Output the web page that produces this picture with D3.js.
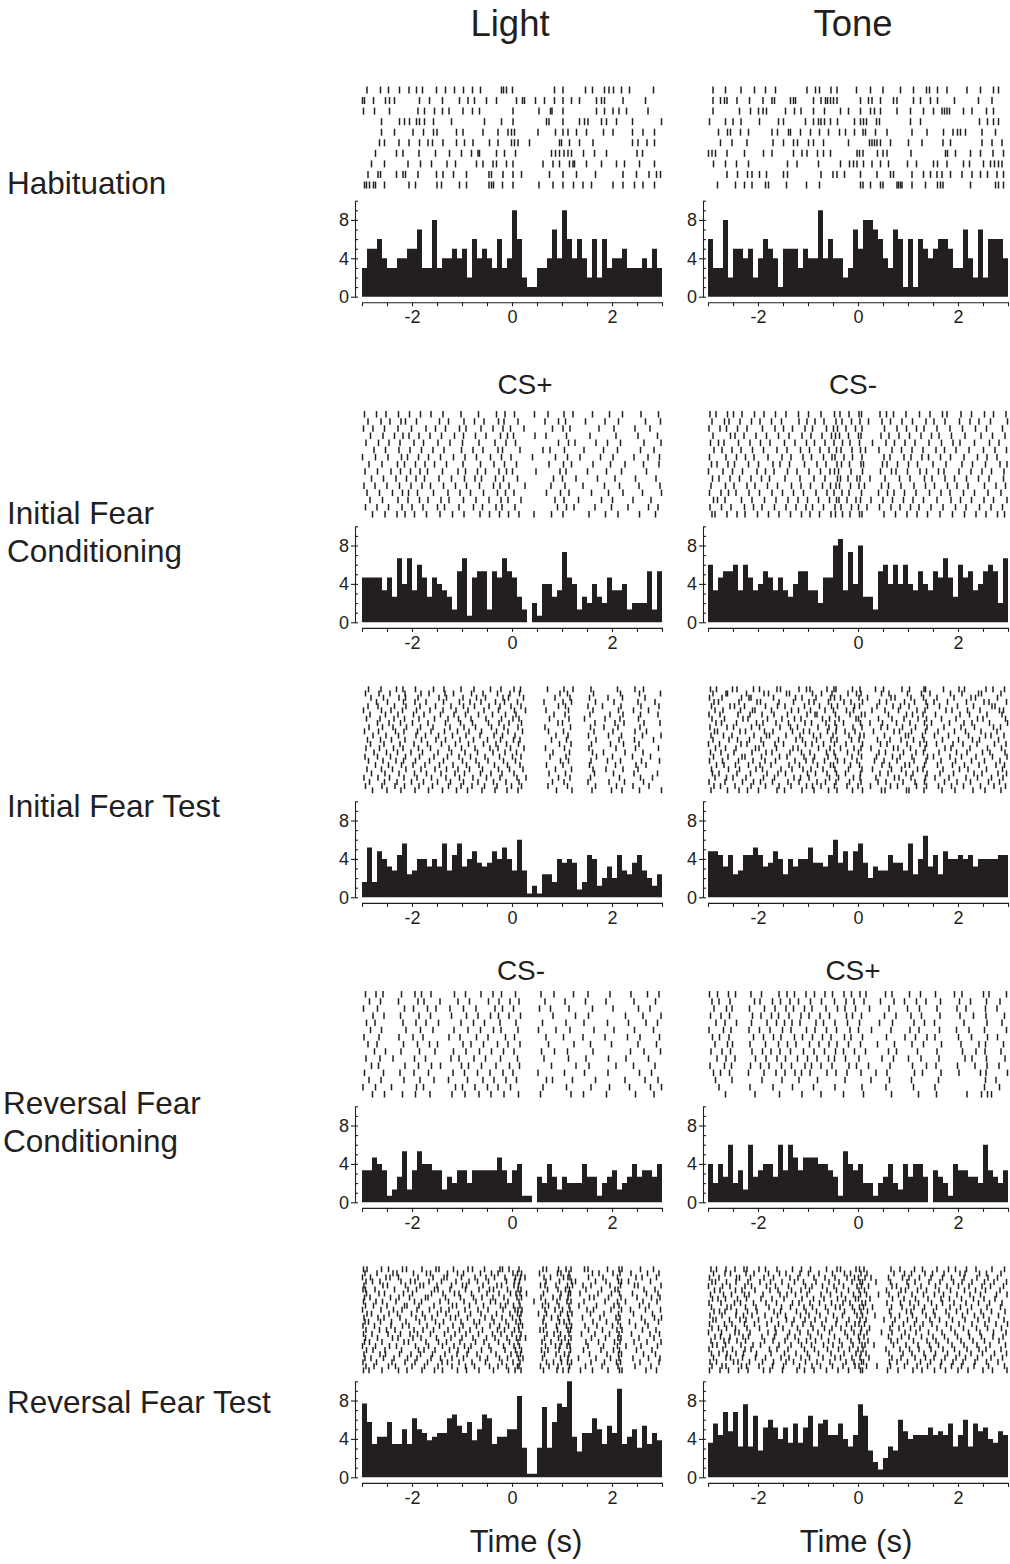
<!DOCTYPE html>
<html>
<head>
<meta charset="utf-8">
<script src="https://cdn.jsdelivr.net/npm/d3@7"></script>
<style>
  body { margin: 0; background: #fff; }
  svg text { font-family: "Liberation Sans", Arial, Helvetica, sans-serif; fill: #231f20; }
</style>
</head>
<body>
<svg id="fig" width="1010" height="1564"></svg>
<script>
// ---- labels ----
const columnTitles = ["Light", "Tone"];
const rowLabels = [["Habituation"], ["Initial Fear", "Conditioning"], ["Initial Fear Test"], ["Reversal Fear", "Conditioning"], ["Reversal Fear Test"]];
const stimulusLabelsInitial = ["CS+", "CS-"];
const stimulusLabelsReversal = ["CS-", "CS+"];
const timeAxisTitle = "Time (s)";

// ---- axes ----
const timeTicks = [-3, -2.5, -2, -1.5, -1, -0.5, 0, 0.5, 1, 1.5, 2, 2.5, 3];
const timeLabels = [-2, 0, 2];
const timeLabelsNoNeg = [0, 2];
const rateTicks = [0, 1, 2, 3, 4, 5, 6, 7, 8, 9, 10];
const rateLabels = [0, 4, 8];
const binStart = -3, binWidth = 0.1;

// ---- peri-event histograms, firing rate (Hz) in 100 ms bins from -3 s to 3 s ----
const histHabLight = [3,5,5,6,4,3,3,4,4,5, 5,7,3,3,8,3,4,4,5,4, 5,2,6,4,5,4,3,6,3,4, 9,6,2,1,1,3,3,4,7,4, 9,6,4,6,4,2,6,2,6,3, 4,4,5,3,3,3,4,3,5,3];
const histHabTone = [6,3,3,8,2,5,5,4,5,2, 4,6,5,4,1,5,5,5,3,5, 4,4,9,4,6,4,4,2,3,7, 5,8,8,7,6,4,3,7,6,1, 6,1,6,5,4,5,6,6,5,3, 3,7,4,2,7,2,6,6,6,4];
const histIFCLight = [4.67,4.67,4.67,4.67,3.33,4.67,2.67,6.67,4,6.67, 3.33,6,4.67,2.67,4.67,4,3.33,2.67,1.33,5.33, 6.67,0.67,4.67,5.33,5.33,1.33,5.33,4.67,6.67,5.33, 4.67,2.67,1.33,0,2,0.67,4,4,2.67,3.33, 7.33,4.67,4,1.33,2.67,2,4,2.67,2,4.67, 3.33,3.33,4,1.33,2,2,2,5.33,1.33,5.33];
const histIFCTone = [6,3.33,4.67,5.33,5.33,6,3.33,6,4.67,3.33, 4,5.33,4.67,3.33,4.67,3.33,2.67,4,5.33,5.33, 3.33,3.33,2,4.67,4.67,8,8.67,3.33,7.33,4, 8,2.67,2.67,1.33,5.33,6,4,6,4,6, 4,3.33,5.33,4,3.33,5.33,4.67,6.67,4.67,2.67, 6,4.67,5.33,3.33,4,5.33,6,5.33,2,6.67];
const histIFTLight = [1.6,5.2,1.6,4.8,4,3.2,2.8,4.4,5.6,2.4, 2.8,4,4,3.2,4,3.2,5.6,2.8,4.4,5.6, 3.2,4,4.8,3.6,3.2,3.6,4.8,4,5.2,4, 2.8,6,2.8,0.4,1.2,0.4,2.4,2.4,1.6,4, 3.6,4,3.6,0.8,1.6,4.4,4,1.2,2,3.2, 2,4.4,2.8,2.4,3.6,4.4,2.8,2,1.2,2.4];
const histIFTTone = [4.8,4.8,4.4,3.2,4.4,2.4,2.8,4.4,4.4,5.2, 4.4,3.2,3.6,4.8,4,2.4,4,3.2,4,4, 5.2,3.6,3.6,3.2,4.4,6,3.6,4.8,2.8,4.8, 5.6,3.6,2,3.2,2.8,2.8,4.4,3.6,3.6,2.8, 5.6,2.4,4,6.4,3.2,4.4,2.4,4.8,4,4, 4.4,4,4.4,3.2,4,4,4,4,4.4,4.4];
const histRFCLight = [3.33,3.33,4.67,4,3.33,0.67,1.33,2.67,5.33,1.33, 3.33,5.33,4,4,3.33,3.33,1.33,2.67,2,3.33, 3.33,2,3.33,3.33,3.33,3.33,3.33,4.67,3.33,2, 3.33,4,0.67,0.67,0,2.67,2,4,2.67,1.33, 2.67,2,2,2,4,2.67,2.67,0.67,2,2.67, 3.33,1.33,2,2.67,4,2.67,3.33,3.33,2.67,4];
const histRFCTone = [4,2,4,2.67,6,2,3.33,1.33,6,2.67, 3.33,4,4,2.67,6,3.33,6,4.67,3.33,4.67, 4.67,4.67,4,4,3.33,2.67,0.67,5.33,4,3.33, 4,2,2,0.67,2,2.67,4,2,1.33,4, 2.67,4,4,2.67,0,3.33,2.67,2,0.67,4, 3.33,3.33,2.67,2.67,2,6,3.33,2.67,2,3.33];
const histRFTLight = [7.69,5.77,3.46,4.23,4.23,5.77,3.46,3.46,5,3.46, 6.15,5,4.62,3.85,4.23,4.62,4.62,6.15,6.54,5.38, 4.62,5.77,3.85,5,6.54,6.15,3.46,4.23,4.23,5, 5,8.46,3.08,0.38,0.38,3.08,7.31,3.08,5.77,7.69, 7.31,10,4.23,2.69,4.62,4.62,6.15,5,3.46,5.38, 4.62,9.23,3.46,4.23,5,3.08,5.38,3.46,4.62,3.85];
const histRFTTone = [3.6,5.6,4.4,6.8,4.8,6.8,3.2,7.6,3.2,6.4, 2.8,5.2,6,5.2,4,5.2,3.6,5.6,3.6,5.2, 6.4,3.2,5.6,6,4.4,4.4,5.6,4,3.2,4.4, 7.6,6.4,2.8,1.6,0.8,2,3.2,2.8,6,4.8, 4,4.4,4.4,4.4,5.2,4.4,4.8,4.4,5.6,3.2, 4.4,6,3.2,5.6,4.8,5.2,4,3.6,4.8,4.4];

// ---- spike rasters: one array of spike times (s) per trial ----
const rasterHabLight = [
  [-2.90,-2.63,-2.47,-2.25,-2.06,-1.91,-1.79,-1.51,-1.33,-1.15,-0.97,-0.79,-0.63,-0.21,-0.17,-0.11,0.01,0.85,1.02,1.47,1.61,1.85,1.94,2.03,2.19,2.35,2.83],
  [-2.99,-2.95,-2.77,-2.53,-2.45,-2.35,-1.85,-1.65,-1.39,-1.05,-0.88,-0.75,-0.51,-0.31,0.09,0.21,0.25,0.47,0.65,0.85,1.02,1.19,1.35,1.69,1.79,1.85,2.22,2.67],
  [-2.97,-2.75,-2.45,-1.88,-1.75,-1.55,-1.39,-1.26,-0.98,-0.79,-0.65,0.02,0.54,0.77,0.80,1.02,1.69,1.85,2.02,2.14,2.29,2.72],
  [-2.61,-2.25,-2.15,-2.05,-1.91,-1.85,-1.75,-1.57,-1.21,-0.55,-0.21,0.02,0.69,0.74,1.02,1.35,1.45,1.52,1.79,1.89,2.09,2.41,2.99],
  [-2.61,-2.35,-1.98,-1.77,-1.57,-1.50,-1.11,-0.98,-0.58,-0.28,-0.08,-0.01,0.05,0.52,0.87,1.02,1.12,1.29,1.49,1.83,2.02,2.41,2.62,2.85],
  [-2.65,-2.55,-2.26,-2.06,-1.85,-1.68,-1.59,-1.38,-1.11,-0.95,-0.78,-0.45,-0.28,-0.01,0.05,0.12,0.35,0.95,0.99,1.15,1.35,1.62,2.41,2.52,2.70,2.85],
  [-2.73,-2.31,-2.18,-1.86,-1.53,-1.25,-1.01,-0.81,-0.68,-0.65,-0.31,-0.15,0.07,0.79,0.87,0.95,1.04,1.12,1.19,1.43,1.65,1.89,2.50,2.61],
  [-2.81,-2.55,-2.08,-1.83,-1.61,-1.30,-1.13,-0.71,-0.58,-0.38,-0.31,-0.11,0.02,0.62,0.82,0.95,1.15,1.22,1.25,1.49,1.79,2.09,2.25,2.55,2.85],
  [-2.88,-2.68,-2.63,-2.31,-2.18,-2.13,-1.88,-1.51,-1.38,-1.17,-0.91,-0.46,-0.41,-0.18,0.02,0.19,0.75,1.02,1.29,1.67,2.22,2.49,2.74,2.89,2.97],
  [-2.95,-2.91,-2.85,-2.77,-2.73,-2.55,-2.06,-1.93,-1.50,-1.41,-1.05,-0.91,-0.46,-0.41,-0.37,-0.19,0.02,0.54,0.82,1.02,1.23,1.42,1.59,2.02,2.22,2.45,2.62,2.85]
];
const rasterHabTone = [
  [-2.90,-2.65,-2.34,-2.07,-1.85,-1.65,-1.02,-0.85,-0.77,-0.54,-0.42,-0.03,0.25,0.50,0.85,1.11,1.37,1.43,1.59,1.78,2.18,2.45,2.71,2.81],
  [-2.90,-2.75,-2.67,-2.62,-2.42,-2.17,-1.90,-1.72,-1.67,-1.35,-1.29,-1.25,-0.89,-0.74,-0.65,-0.61,-0.55,-0.49,-0.42,0.05,0.21,0.28,0.45,0.71,0.78,1.11,1.25,1.45,1.59,1.93,2.41,2.68],
  [-2.90,-2.37,-2.15,-1.99,-1.90,-1.83,-1.45,-1.27,-1.14,-0.89,-0.67,-0.35,-0.19,0.05,0.25,0.33,0.45,0.78,1.05,1.31,1.51,1.68,1.73,1.78,1.83,2.11,2.28,2.57,2.71],
  [-2.97,-2.65,-2.50,-2.34,-1.97,-1.59,-1.49,-1.05,-0.89,-0.79,-0.74,-0.67,-0.55,-0.41,-0.07,0.05,0.11,0.17,0.37,0.43,1.05,1.25,2.43,2.59,2.71,2.81],
  [-2.79,-2.61,-2.55,-2.35,-2.19,-1.72,-1.61,-1.39,-1.35,-1.15,-0.95,-0.77,-0.59,-0.37,-0.25,-0.07,0.10,0.15,0.35,0.58,1.08,1.38,1.71,1.90,1.99,2.05,2.15,2.48,2.75],
  [-2.75,-2.52,-2.22,-1.70,-1.49,-1.29,-1.21,-0.99,-0.89,-0.69,-0.19,0.23,0.28,0.33,0.38,0.45,0.65,1.01,1.28,1.70,1.85,2.48,2.68,2.88],
  [-2.99,-2.92,-2.85,-2.62,-2.27,-1.89,-1.72,-1.29,-1.12,-1.02,-0.81,-0.69,-0.55,-0.02,0.03,0.10,0.39,0.50,0.58,1.06,1.75,1.79,1.95,2.25,2.45,2.70,2.91],
  [-2.89,-2.65,-2.43,-2.19,-1.41,-1.22,-0.79,-0.35,-0.17,-0.09,-0.02,0.11,0.28,0.45,0.61,0.99,1.17,1.51,1.59,1.78,2.11,2.23,2.51,2.65,2.73,2.81,2.88],
  [-2.62,-2.41,-2.21,-2.12,-1.97,-1.83,-1.49,-1.41,-0.74,-0.50,-0.42,-0.27,0.05,0.38,0.65,0.71,1.08,1.31,1.45,1.58,1.68,1.85,2.08,2.28,2.45,2.59,2.78,2.91],
  [-2.81,-2.45,-2.27,-2.12,-1.85,-1.79,-1.43,-1.03,-0.77,0.05,0.10,0.25,0.45,0.50,0.78,0.81,0.85,0.88,1.08,1.35,1.59,1.65,1.70,2.25,2.75,2.81,2.91]
];
const rasterIFCLight = [
  [-2.95,-2.71,-2.52,-2.27,-2.05,-1.83,-1.62,-1.38,-1.02,-0.67,-0.31,-0.14,0.05,0.45,0.72,1.04,1.22,1.61,1.95,2.21,2.58,2.93],
  [-2.88,-2.62,-2.44,-2.22,-2.13,-1.91,-1.45,-1.27,-0.96,-0.75,-0.56,-0.27,-0.16,0.12,0.66,0.93,1.07,1.47,1.86,2.13,2.67,2.97],
  [-2.97,-2.78,-2.55,-2.28,-2.01,-1.72,-1.53,-1.33,-1.05,-0.92,-0.62,-0.38,-0.18,-0.03,0.24,0.81,1.02,1.16,1.74,2.04,2.46,2.76],
  [-2.83,-2.58,-2.35,-2.18,-2.06,-1.86,-1.64,-1.41,-1.15,-0.97,-0.73,-0.52,-0.23,-0.09,0.03,0.46,0.68,1.09,1.56,2.08,2.52,2.91],
  [-2.92,-2.67,-2.46,-2.24,-1.96,-1.77,-1.48,-1.24,-0.99,-0.66,-0.34,-0.12,0.07,0.93,1.13,1.26,1.68,1.91,2.17,2.64,2.98],
  [-2.76,-2.53,-2.26,-2.04,-1.81,-1.58,-1.36,-1.01,-0.78,-0.58,-0.28,-0.19,0.16,0.62,0.76,1.05,1.44,1.83,2.11,2.57,2.84],
  [-2.99,-2.73,-2.48,-2.21,-2.09,-1.87,-1.67,-1.43,-1.17,-0.94,-0.71,-0.43,-0.21,-0.02,0.41,0.87,1.11,1.36,1.77,2.02,2.44,2.72,2.95],
  [-2.86,-2.60,-2.29,-2.15,-1.93,-1.74,-1.55,-1.31,-0.98,-0.63,-0.36,-0.15,0.09,0.74,1.03,1.19,1.62,1.97,2.26,2.63,2.94],
  [-2.94,-2.69,-2.42,-2.23,-2.03,-1.84,-1.69,-1.39,-1.08,-0.93,-0.69,-0.53,-0.26,-0.11,0.01,0.48,0.96,1.08,1.51,1.89,2.19,2.69],
  [-2.81,-2.57,-2.32,-2.11,-1.92,-1.75,-1.46,-1.21,-0.95,-0.74,-0.61,-0.33,-0.17,0.11,0.83,1.01,1.28,1.71,2.06,2.47,2.88],
  [-2.96,-2.74,-2.50,-2.25,-2.02,-1.80,-1.63,-1.37,-1.13,-0.91,-0.65,-0.37,-0.24,-0.06,0.26,0.78,1.06,1.42,1.85,2.15,2.54,2.96],
  [-2.90,-2.65,-2.39,-2.19,-2.07,-1.89,-1.57,-1.28,-1.04,-0.83,-0.57,-0.29,-0.13,0.04,0.69,0.97,1.14,1.59,1.93,2.22,2.61,2.99],
  [-2.84,-2.59,-2.28,-2.08,-1.85,-1.68,-1.42,-1.26,-0.97,-0.72,-0.46,-0.22,-0.08,0.18,0.86,1.04,1.33,1.79,2.01,2.42,2.78],
  [-2.93,-2.70,-2.47,-2.20,-2.00,-1.78,-1.49,-1.35,-1.06,-0.77,-0.59,-0.32,-0.20,0.06,0.91,1.09,1.24,1.66,1.99,2.32,2.73,2.92],
  [-2.79,-2.54,-2.30,-2.14,-1.95,-1.71,-1.44,-1.19,-0.96,-0.64,-0.45,-0.25,-0.07,0.14,0.44,0.79,1.02,1.54,1.87,2.12,2.55,2.87]
];
const rasterIFCTone = [
  [-2.96,-2.84,-2.61,-2.49,-2.32,-2.07,-1.88,-1.65,-1.44,-1.19,-0.99,-0.74,-0.47,-0.36,-0.18,0.02,0.07,0.44,0.57,0.71,0.96,1.23,1.44,1.69,1.78,2.06,2.27,2.53,2.71,2.96],
  [-2.92,-2.67,-2.58,-2.36,-2.13,-1.96,-1.73,-1.53,-1.18,-1.02,-0.86,-0.68,-0.44,-0.32,-0.13,0.04,0.21,0.48,0.65,0.88,1.09,1.36,1.52,1.74,2.03,2.24,2.42,2.65,2.99],
  [-2.98,-2.76,-2.63,-2.41,-2.22,-1.91,-1.66,-1.49,-1.31,-1.06,-0.91,-0.63,-0.49,-0.41,-0.24,-0.05,0.08,0.53,0.78,0.97,1.17,1.32,1.58,1.84,2.09,2.35,2.57,2.89],
  [-2.90,-2.55,-2.46,-2.28,-2.04,-1.83,-1.59,-1.38,-1.12,-0.94,-0.72,-0.53,-0.45,-0.37,-0.19,0.01,0.06,0.46,0.62,0.82,1.03,1.26,1.47,1.62,1.87,2.14,2.46,2.69,2.94],
  [-2.95,-2.79,-2.68,-2.39,-2.16,-1.95,-1.76,-1.47,-1.26,-1.03,-0.87,-0.66,-0.48,-0.31,-0.16,0.03,0.29,0.56,0.73,0.94,1.14,1.42,1.67,1.90,2.04,2.33,2.63,2.82],
  [-2.88,-2.72,-2.52,-2.34,-2.11,-1.89,-1.62,-1.42,-1.15,-0.97,-0.76,-0.58,-0.43,-0.34,-0.12,0.05,0.15,0.42,0.68,0.87,1.08,1.30,1.56,1.73,1.96,2.22,2.51,2.74,2.97],
  [-2.97,-2.64,-2.43,-2.25,-2.08,-1.80,-1.52,-1.34,-1.10,-0.93,-0.69,-0.52,-0.46,-0.28,-0.11,0.08,0.52,0.64,0.92,1.06,1.28,1.41,1.65,1.85,2.12,2.39,2.58,2.78],
  [-2.93,-2.82,-2.60,-2.47,-2.19,-1.99,-1.70,-1.56,-1.37,-1.07,-0.82,-0.64,-0.42,-0.33,-0.17,0.06,0.11,0.49,0.58,0.79,1.01,1.19,1.50,1.76,2.08,2.29,2.55,2.84,2.98],
  [-2.99,-2.70,-2.51,-2.31,-2.02,-1.85,-1.68,-1.41,-1.22,-0.98,-0.75,-0.56,-0.47,-0.39,-0.14,0.09,0.45,0.67,0.76,0.99,1.24,1.37,1.61,1.72,2.02,2.26,2.48,2.67,2.92],
  [-2.91,-2.78,-2.56,-2.37,-2.14,-1.93,-1.77,-1.46,-1.16,-0.88,-0.66,-0.41,-0.35,-0.20,-0.02,0.04,0.24,0.54,0.83,1.04,1.33,1.48,1.74,1.93,2.17,2.41,2.62,2.91],
  [-2.94,-2.65,-2.48,-2.22,-2.06,-1.81,-1.61,-1.33,-1.14,-0.95,-0.71,-0.55,-0.44,-0.37,-0.15,0.02,0.13,0.47,0.61,0.86,1.12,1.35,1.53,1.79,1.98,2.20,2.53,2.76,2.95],
  [-2.97,-2.74,-2.59,-2.44,-2.18,-1.97,-1.72,-1.51,-1.29,-1.09,-0.84,-0.62,-0.48,-0.32,-0.18,0.07,0.41,0.59,0.72,0.93,1.16,1.43,1.66,1.84,2.11,2.33,2.60,2.86],
  [-2.89,-2.81,-2.66,-2.33,-2.12,-1.87,-1.64,-1.40,-1.20,-1.01,-0.79,-0.57,-0.43,-0.38,-0.22,-0.04,0.05,0.26,0.50,0.69,0.91,1.10,1.31,1.58,1.86,2.05,2.27,2.52,2.71,2.98],
  [-2.96,-2.73,-2.54,-2.27,-2.09,-1.92,-1.67,-1.44,-1.24,-1.04,-0.91,-0.69,-0.46,-0.34,-0.13,0.01,0.18,0.43,0.66,0.84,1.05,1.22,1.46,1.70,1.95,2.16,2.43,2.66,2.89],
  [-2.92,-2.86,-2.62,-2.42,-2.26,-2.01,-1.79,-1.58,-1.35,-1.13,-0.96,-0.77,-0.54,-0.45,-0.31,-0.16,0.03,0.08,0.52,0.75,0.98,1.18,1.39,1.64,1.89,2.13,2.36,2.56,2.79,2.93]
];
const rasterIFTLight = [
  [-2.87,-2.62,-2.31,-2.18,-1.93,-1.57,-1.36,-1.02,-0.76,-0.43,-0.22,0.04,0.17,0.71,1.04,1.22,1.58,2.11,2.46,2.63],
  [-2.93,-2.66,-2.44,-2.14,-1.82,-1.66,-1.34,-1.17,-0.81,-0.58,-0.29,-0.04,0.15,0.96,1.11,1.63,2.17,2.55,2.97],
  [-2.82,-2.57,-2.26,-2.13,-1.88,-1.46,-1.31,-0.98,-0.71,-0.53,-0.18,-0.07,0.23,0.86,1.16,1.55,1.92,2.21,2.66],
  [-2.71,-2.49,-2.17,-1.94,-1.72,-1.37,-1.05,-0.84,-0.62,-0.33,-0.15,0.11,0.64,1.02,1.19,1.67,2.04,2.52,2.86],
  [-2.88,-2.68,-2.35,-2.12,-1.84,-1.53,-1.22,-0.97,-0.75,-0.46,-0.24,-0.02,0.18,0.93,1.07,1.52,1.81,2.18,2.58,2.94],
  [-2.97,-2.61,-2.42,-2.19,-1.91,-1.64,-1.38,-1.12,-0.88,-0.56,-0.27,0.05,0.27,0.68,1.13,1.62,2.13,2.43,2.73],
  [-2.84,-2.53,-2.28,-1.97,-1.76,-1.43,-1.16,-0.93,-0.67,-0.39,-0.13,0.08,0.84,1.06,1.56,1.96,2.22,2.57,2.92],
  [-2.91,-2.64,-2.36,-2.15,-1.86,-1.55,-1.28,-1.07,-0.82,-0.52,-0.21,0.02,0.14,0.75,1.14,1.45,1.86,2.16,2.53],
  [-2.69,-2.46,-2.23,-1.99,-1.68,-1.33,-1.03,-0.79,-0.47,-0.26,-0.06,0.19,0.92,1.01,1.66,2.06,2.24,2.64,2.96],
  [-2.86,-2.59,-2.38,-2.11,-1.83,-1.58,-1.24,-0.96,-0.73,-0.41,-0.16,0.12,0.66,1.17,1.57,1.84,2.12,2.56],
  [-2.95,-2.67,-2.33,-2.16,-1.89,-1.62,-1.35,-1.09,-0.86,-0.61,-0.31,-0.08,0.21,0.73,1.03,1.64,2.02,2.46,2.69],
  [-2.78,-2.52,-2.27,-1.92,-1.73,-1.47,-1.19,-0.92,-0.64,-0.36,-0.19,0.06,0.88,1.12,1.53,1.93,2.19,2.61,2.98],
  [-2.89,-2.63,-2.41,-2.14,-1.81,-1.52,-1.33,-1.04,-0.77,-0.49,-0.23,0.03,0.16,0.79,1.09,1.68,2.14,2.45,2.83],
  [-2.83,-2.56,-2.24,-1.96,-1.69,-1.41,-1.13,-0.87,-0.57,-0.32,-0.11,0.13,0.95,1.18,1.59,1.97,2.23,2.54],
  [-2.92,-2.65,-2.37,-2.18,-1.87,-1.63,-1.26,-1.01,-0.74,-0.44,-0.28,-0.03,0.24,0.67,1.05,1.54,2.08,2.47,2.93],
  [-2.76,-2.51,-2.29,-2.02,-1.79,-1.48,-1.21,-0.94,-0.69,-0.38,-0.14,0.09,0.82,1.15,1.61,1.83,2.26,2.62],
  [-2.94,-2.69,-2.43,-2.13,-1.85,-1.56,-1.29,-1.06,-0.83,-0.54,-0.25,0.01,0.18,0.76,1.08,1.69,2.01,2.41,2.77],
  [-2.87,-2.58,-2.32,-2.17,-1.93,-1.65,-1.37,-0.99,-0.72,-0.48,-0.17,0.07,0.97,1.13,1.58,1.91,2.17,2.59,2.95],
  [-2.73,-2.47,-2.21,-1.98,-1.74,-1.45,-1.18,-0.91,-0.66,-0.35,-0.09,0.16,0.69,1.02,1.55,2.07,2.48,2.68],
  [-2.90,-2.61,-2.39,-2.12,-1.82,-1.54,-1.31,-1.08,-0.85,-0.59,-0.27,-0.05,0.22,0.87,1.19,1.62,1.88,2.22,2.52],
  [-2.81,-2.54,-2.26,-1.95,-1.71,-1.42,-1.14,-0.95,-0.63,-0.42,-0.20,0.04,0.74,1.07,1.65,2.03,2.44,2.91],
  [-2.96,-2.68,-2.45,-2.16,-1.90,-1.61,-1.32,-1.05,-0.78,-0.51,-0.24,0.10,0.28,0.93,1.16,1.57,2.15,2.57,2.81],
  [-2.85,-2.55,-2.30,-2.01,-1.77,-1.49,-1.23,-0.97,-0.68,-0.37,-0.12,0.14,0.81,1.04,1.52,1.94,2.25,2.63],
  [-2.93,-2.60,-2.34,-2.15,-1.86,-1.59,-1.27,-1.02,-0.80,-0.55,-0.30,-0.01,0.19,0.72,1.11,1.67,2.09,2.42,2.74],
  [-2.79,-2.50,-2.22,-1.94,-1.67,-1.39,-1.11,-0.89,-0.60,-0.34,-0.10,0.12,0.89,1.20,1.60,1.99,2.20,2.55,2.99]
];
const rasterIFTTone = [
  [-2.95,-2.83,-2.51,-2.42,-2.09,-1.97,-1.62,-1.55,-1.18,-1.03,-0.96,-0.62,-0.48,-0.44,-0.11,0.04,0.35,0.51,0.88,1.03,1.32,1.35,1.71,2.02,2.13,2.56,2.70,2.93],
  [-2.90,-2.64,-2.61,-2.23,-1.88,-1.79,-1.43,-1.37,-0.91,-0.73,-0.52,-0.20,-0.03,0.06,0.47,0.62,0.99,1.27,1.44,1.85,2.08,2.41,2.47,2.86],
  [-2.97,-2.72,-2.33,-2.18,-2.14,-1.69,-1.25,-1.12,-0.84,-0.55,-0.47,-0.35,0.02,0.19,0.66,0.74,1.06,1.31,1.58,1.92,2.26,2.35,2.79],
  [-2.88,-2.79,-2.38,-2.02,-1.95,-1.58,-1.29,-0.98,-0.88,-0.59,-0.28,-0.14,0.09,0.43,0.57,0.93,1.13,1.36,1.52,1.79,2.17,2.52,2.62,2.97],
  [-2.93,-2.56,-2.47,-2.27,-1.85,-1.61,-1.46,-1.07,-0.77,-0.53,-0.41,-0.07,0.03,0.38,0.70,0.85,1.02,1.39,1.63,1.99,2.31,2.68,2.74],
  [-2.86,-2.70,-2.35,-2.11,-2.06,-1.73,-1.33,-1.19,-0.95,-0.66,-0.49,-0.23,-0.09,0.28,0.54,0.81,1.18,1.34,1.76,1.88,2.19,2.44,2.83,2.91],
  [-2.98,-2.76,-2.40,-2.16,-1.92,-1.68,-1.41,-1.02,-0.86,-0.82,-0.45,-0.16,0.07,0.14,0.61,0.97,1.09,1.30,1.55,2.04,2.23,2.58,2.88],
  [-2.92,-2.67,-2.30,-2.20,-1.81,-1.52,-1.27,-1.14,-0.71,-0.57,-0.38,-0.04,0.01,0.41,0.68,0.92,1.20,1.37,1.67,1.96,2.39,2.50,2.95],
  [-2.84,-2.73,-2.43,-2.03,-1.90,-1.64,-1.39,-1.06,-0.93,-0.64,-0.46,-0.29,0.05,0.24,0.49,0.77,1.04,1.33,1.47,1.83,2.12,2.28,2.63,2.99],
  [-2.96,-2.62,-2.49,-2.13,-1.97,-1.56,-1.35,-1.21,-0.80,-0.58,-0.43,-0.10,0.08,0.46,0.59,0.89,1.15,1.38,1.72,2.06,2.33,2.71,2.85],
  [-2.87,-2.81,-2.36,-2.25,-1.87,-1.70,-1.31,-1.09,-0.97,-0.61,-0.44,-0.26,-0.06,0.31,0.72,0.83,1.07,1.35,1.60,1.93,2.15,2.46,2.78],
  [-2.94,-2.69,-2.52,-2.08,-1.83,-1.77,-1.44,-1.16,-0.89,-0.75,-0.50,-0.18,0.04,0.12,0.53,0.95,1.01,1.29,1.53,1.81,2.21,2.55,2.66,2.92],
  [-2.90,-2.58,-2.41,-2.17,-1.94,-1.59,-1.24,-1.11,-0.83,-0.54,-0.42,-0.13,0.02,0.39,0.64,0.86,1.11,1.32,1.69,2.01,2.29,2.43,2.81],
  [-2.99,-2.77,-2.34,-2.22,-1.89,-1.66,-1.49,-1.05,-0.92,-0.69,-0.47,-0.24,0.09,0.45,0.58,0.98,1.24,1.37,1.57,1.90,2.10,2.38,2.73,2.96],
  [-2.85,-2.65,-2.44,-2.05,-1.98,-1.63,-1.30,-1.20,-0.79,-0.56,-0.35,-0.08,0.06,0.26,0.71,0.80,1.05,1.34,1.74,1.86,2.24,2.59,2.87],
  [-2.95,-2.74,-2.48,-2.12,-1.84,-1.72,-1.36,-1.13,-0.96,-0.63,-0.48,-0.21,0.01,0.42,0.55,0.91,1.16,1.31,1.62,1.97,2.18,2.49,2.64,2.94],
  [-2.89,-2.60,-2.32,-2.26,-1.93,-1.57,-1.42,-1.08,-0.87,-0.60,-0.45,-0.12,0.07,0.37,0.69,0.84,1.08,1.39,1.51,1.84,2.07,2.36,2.69,2.98],
  [-2.97,-2.71,-2.39,-2.10,-1.86,-1.65,-1.26,-1.04,-0.90,-0.67,-0.41,-0.27,-0.02,0.33,0.52,0.78,1.12,1.36,1.66,1.95,2.27,2.53,2.84],
  [-2.83,-2.68,-2.45,-2.19,-1.96,-1.74,-1.38,-1.17,-0.81,-0.55,-0.49,-0.15,0.03,0.48,0.63,0.94,1.03,1.33,1.59,1.89,2.13,2.42,2.76,2.93],
  [-2.93,-2.59,-2.37,-2.04,-1.91,-1.54,-1.32,-1.10,-0.94,-0.70,-0.46,-0.19,0.08,0.29,0.67,0.87,1.19,1.30,1.70,2.03,2.20,2.57,2.89],
  [-2.91,-2.78,-2.42,-2.15,-1.82,-1.60,-1.45,-1.01,-0.85,-0.62,-0.43,-0.25,0.05,0.44,0.60,0.96,1.10,1.38,1.64,1.91,2.32,2.48,2.80,2.97],
  [-2.86,-2.63,-2.50,-2.24,-1.89,-1.67,-1.28,-1.15,-0.98,-0.57,-0.39,-0.09,0.04,0.36,0.73,0.82,1.06,1.35,1.54,1.82,2.16,2.39,2.67,2.90],
  [-2.98,-2.66,-2.31,-2.09,-1.95,-1.71,-1.40,-1.18,-0.82,-0.65,-0.44,-0.17,0.06,0.40,0.56,0.90,1.14,1.33,1.73,1.98,2.25,2.61,2.83],
  [-2.88,-2.75,-2.46,-2.14,-1.85,-1.58,-1.34,-1.03,-0.91,-0.74,-0.47,-0.22,0.00,0.25,0.65,0.79,1.17,1.37,1.61,1.87,2.11,2.45,2.72,2.95],
  [-2.94,-2.61,-2.38,-2.21,-1.99,-1.62,-1.47,-1.12,-0.88,-0.59,-0.42,-0.11,0.09,0.47,0.54,0.97,1.02,1.32,1.68,1.94,2.30,2.54,2.86]
];
const rasterRFCLight = [
  [-2.93,-2.72,-2.58,-2.21,-1.94,-1.81,-1.62,-1.15,-0.93,-0.62,-0.38,-0.21,0.07,0.58,0.84,1.23,1.52,1.96,2.38,2.71,2.94],
  [-2.85,-2.63,-2.27,-1.88,-1.76,-1.44,-1.08,-0.85,-0.47,-0.26,-0.04,0.14,0.66,1.06,1.47,1.88,2.44,2.87],
  [-2.97,-2.69,-2.15,-1.97,-1.69,-1.52,-1.24,-0.97,-0.72,-0.34,-0.19,0.03,0.55,0.77,1.14,1.61,2.02,2.53,2.76],
  [-2.78,-2.56,-2.23,-1.86,-1.63,-1.21,-0.91,-0.68,-0.43,-0.27,-0.06,0.17,0.82,1.27,1.53,2.27,2.62,2.98],
  [-2.91,-2.74,-2.18,-1.92,-1.72,-1.47,-1.02,-0.77,-0.55,-0.24,0.08,0.61,1.08,1.44,1.91,2.33,2.68,2.91],
  [-2.83,-2.61,-2.12,-1.83,-1.58,-1.16,-0.88,-0.63,-0.37,-0.22,0.12,0.53,0.88,1.16,1.64,2.04,2.45,2.83],
  [-2.96,-2.66,-2.26,-1.98,-1.78,-1.26,-1.04,-0.71,-0.48,-0.13,0.05,0.68,1.03,1.42,1.86,2.31,2.56,2.95],
  [-2.88,-2.70,-2.17,-1.89,-1.65,-1.49,-0.98,-0.82,-0.57,-0.29,-0.08,0.16,0.73,1.24,1.57,1.99,2.52,2.89],
  [-2.75,-2.53,-2.22,-1.85,-1.54,-1.17,-0.92,-0.65,-0.41,-0.17,0.04,0.59,0.85,1.11,1.62,2.37,2.64,2.97],
  [-2.92,-2.64,-2.38,-1.95,-1.73,-1.22,-1.06,-0.76,-0.53,-0.23,0.11,0.64,1.13,1.48,1.93,2.28,2.73],
  [-2.81,-2.67,-2.14,-1.87,-1.61,-1.43,-1.01,-0.87,-0.61,-0.32,-0.05,0.15,0.79,1.28,1.54,2.08,2.43,2.86],
  [-2.95,-2.57,-2.24,-1.96,-1.67,-1.18,-0.95,-0.69,-0.44,-0.18,0.02,0.52,1.05,1.45,1.92,2.55,2.79],
  [-2.86,-2.62,-2.16,-1.84,-1.56,-1.27,-0.89,-0.58,-0.36,-0.12,0.09,0.69,0.81,1.21,1.67,2.26,2.66,2.92],
  [-2.98,-2.73,-2.41,-1.91,-1.77,-1.13,-0.99,-0.74,-0.49,-0.28,-0.03,0.62,1.09,1.58,1.95,2.35,2.77,2.99],
  [-2.79,-2.55,-2.19,-1.93,-1.64,-1.20,-0.94,-0.66,-0.42,-0.16,0.13,0.57,1.18,1.43,1.89,2.47,2.84]
];
const rasterRFCTone = [
  [-2.97,-2.81,-2.59,-2.45,-2.14,-1.93,-1.58,-1.42,-1.27,-1.04,-0.87,-0.66,-0.51,-0.28,-0.13,0.04,0.16,0.55,0.68,1.03,1.25,1.55,1.93,2.08,2.51,2.62,2.97],
  [-2.92,-2.78,-2.56,-2.07,-1.96,-1.71,-1.55,-1.36,-1.19,-0.95,-0.73,-0.47,-0.24,-0.08,0.12,0.45,0.72,0.93,1.17,1.36,1.65,2.03,2.25,2.57,2.84],
  [-2.88,-2.63,-2.52,-2.17,-1.87,-1.66,-1.44,-1.29,-1.07,-0.92,-0.64,-0.41,-0.26,-0.05,0.23,0.62,0.99,1.23,1.58,1.98,2.16,2.55,2.78],
  [-2.95,-2.74,-2.57,-2.11,-1.94,-1.73,-1.59,-1.38,-1.14,-0.98,-0.76,-0.57,-0.23,-0.11,0.07,0.53,0.76,1.06,1.27,1.64,2.04,2.31,2.56,2.93],
  [-2.84,-2.66,-2.43,-2.13,-1.82,-1.63,-1.47,-1.32,-1.16,-0.84,-0.69,-0.46,-0.21,0.03,0.43,0.69,1.12,1.33,1.53,2.12,2.58,2.88],
  [-2.98,-2.69,-2.54,-2.18,-1.97,-1.76,-1.51,-1.34,-1.03,-0.86,-0.63,-0.43,-0.16,0.01,0.27,0.66,1.04,1.22,1.63,1.97,2.22,2.53,2.97],
  [-2.91,-2.77,-2.58,-2.09,-1.89,-1.69,-1.54,-1.27,-1.11,-0.91,-0.71,-0.54,-0.27,-0.14,0.09,0.57,0.94,1.15,1.38,1.54,2.01,2.27,2.59,2.79],
  [-2.86,-2.61,-2.51,-2.16,-1.85,-1.59,-1.41,-1.24,-0.97,-0.78,-0.58,-0.42,-0.19,0.05,0.39,0.73,1.08,1.31,1.67,2.06,2.42,2.55,2.91],
  [-2.94,-2.72,-2.55,-2.12,-1.91,-1.74,-1.56,-1.35,-1.09,-0.88,-0.67,-0.45,-0.29,-0.07,0.15,0.61,0.77,1.19,1.58,2.09,2.36,2.54,2.86],
  [-2.82,-2.64,-2.46,-2.05,-1.84,-1.62,-1.45,-1.21,-1.01,-0.82,-0.59,-0.47,-0.25,0.02,0.48,0.71,1.01,1.26,1.62,2.14,2.28,2.57,2.94],
  [-2.96,-2.67,-2.53,-2.15,-1.95,-1.78,-1.53,-1.33,-1.06,-0.93,-0.74,-0.52,-0.18,-0.03,0.21,0.64,1.09,1.37,1.56,1.99,2.34,2.58,2.82],
  [-2.89,-2.75,-2.57,-2.19,-1.88,-1.64,-1.46,-1.26,-1.13,-0.96,-0.62,-0.44,-0.22,0.06,0.36,0.58,1.13,1.29,1.66,2.02,2.45,2.56,2.99],
  [-2.85,-2.52,-1.92,-1.52,-1.18,-0.81,-0.26,0.26,0.63,1.07,1.61,2.55,2.76],
  [-2.78,-2.16,-1.70,-1.31,-0.89,-0.46,0.08,0.56,1.11,1.54,2.53,2.83],
  [-2.65,-2.06,-1.57,-1.12,-0.74,-0.29,0.11,0.67,1.21,1.57,2.18,2.47,2.59,2.67]
];
const rasterRFTLight = [
  [-2.97,-2.90,-2.61,-2.47,-2.19,-2.11,-1.80,-1.52,-1.46,-1.17,-0.88,-0.79,-0.55,-0.24,-0.19,-0.06,0.14,0.62,0.69,0.93,1.08,1.18,1.45,1.52,1.91,2.14,2.20,2.57,2.83],
  [-2.94,-2.70,-2.38,-2.30,-1.97,-1.71,-1.63,-1.29,-1.09,-0.97,-0.63,-0.41,-0.28,0.02,0.11,0.19,0.55,0.91,0.98,1.14,1.61,1.74,2.02,2.16,2.38,2.71,2.94],
  [-2.99,-2.83,-2.52,-2.44,-2.27,-1.88,-1.58,-1.36,-1.30,-1.01,-0.74,-0.52,-0.35,-0.14,0.07,0.17,0.26,0.64,0.77,1.03,1.12,1.16,1.53,1.82,2.11,2.48,2.60,2.89],
  [-2.92,-2.79,-2.64,-2.22,-2.03,-1.94,-1.66,-1.41,-1.12,-0.86,-0.69,-0.47,-0.11,0.05,0.15,0.68,0.95,1.19,1.27,1.67,1.88,2.13,2.19,2.33,2.77],
  [-2.96,-2.58,-2.49,-2.13,-1.84,-1.77,-1.50,-1.21,-0.99,-0.91,-0.58,-0.30,-0.21,0.04,0.13,0.57,0.66,0.88,1.11,1.21,1.42,1.58,1.96,2.17,2.45,2.52,2.98],
  [-2.98,-2.93,-2.74,-2.35,-2.08,-1.91,-1.55,-1.48,-1.24,-0.93,-0.66,-0.45,-0.37,-0.09,0.12,0.18,0.71,0.92,1.07,1.15,1.48,1.79,2.06,2.12,2.64,2.86],
  [-2.91,-2.66,-2.55,-2.17,-1.99,-1.61,-1.38,-1.15,-1.06,-0.81,-0.50,-0.26,-0.03,0.08,0.16,0.29,0.63,0.98,1.13,1.17,1.36,1.72,1.99,2.15,2.41,2.69,2.92],
  [-2.95,-2.84,-2.43,-2.26,-2.05,-1.73,-1.68,-1.33,-1.03,-0.77,-0.60,-0.38,-0.16,0.10,0.19,0.58,0.82,0.96,1.12,1.55,1.64,1.93,2.18,2.50,2.79,2.96],
  [-2.97,-2.72,-2.59,-2.32,-1.95,-1.81,-1.44,-1.27,-0.96,-0.72,-0.43,-0.33,-0.08,0.14,0.44,0.67,0.90,1.10,1.18,1.44,1.86,2.11,2.27,2.62,2.90],
  [-2.93,-2.77,-2.50,-2.15,-2.10,-1.86,-1.56,-1.19,-1.11,-0.85,-0.57,-0.23,-0.13,0.03,0.16,0.61,0.73,0.94,1.14,1.34,1.69,2.04,2.14,2.55,2.74],
  [-2.99,-2.62,-2.37,-2.20,-1.90,-1.65,-1.42,-1.26,-0.94,-0.68,-0.48,-0.18,0.06,0.12,0.20,0.66,0.86,1.01,1.16,1.50,1.63,1.98,2.19,2.37,2.67,2.97],
  [-2.90,-2.81,-2.46,-2.29,-2.01,-1.79,-1.49,-1.32,-1.07,-0.83,-0.62,-0.31,-0.04,0.11,0.18,0.53,0.69,0.97,1.11,1.20,1.57,1.84,2.13,2.43,2.81],
  [-2.96,-2.68,-2.56,-2.24,-1.92,-1.74,-1.60,-1.23,-1.13,-0.89,-0.54,-0.40,-0.20,0.01,0.15,0.64,0.79,0.92,1.13,1.41,1.76,2.08,2.16,2.59,2.85,2.99],
  [-2.94,-2.87,-2.63,-2.41,-2.12,-1.85,-1.53,-1.37,-1.02,-0.76,-0.65,-0.36,-0.12,0.08,0.17,0.62,0.95,1.04,1.15,1.62,1.89,2.12,2.35,2.66,2.93],
  [-2.98,-2.75,-2.42,-2.19,-2.06,-1.70,-1.45,-1.18,-0.98,-0.71,-0.44,-0.25,-0.07,0.13,0.21,0.68,0.89,1.09,1.19,1.46,1.70,2.01,2.17,2.47,2.72],
  [-2.92,-2.65,-2.51,-2.34,-1.96,-1.78,-1.57,-1.28,-1.05,-0.84,-0.59,-0.29,-0.15,0.05,0.14,0.56,0.63,0.91,1.12,1.17,1.53,1.81,2.10,2.20,2.61,2.88],
  [-2.97,-2.80,-2.48,-2.23,-2.04,-1.89,-1.63,-1.35,-1.14,-0.92,-0.67,-0.39,-0.22,0.00,0.18,0.70,0.84,0.97,1.14,1.39,1.66,1.95,2.14,2.39,2.76,2.95],
  [-2.93,-2.69,-2.39,-2.28,-1.98,-1.82,-1.51,-1.22,-1.00,-0.78,-0.51,-0.34,-0.10,0.09,0.16,0.27,0.65,0.93,1.06,1.18,1.59,1.87,2.12,2.18,2.54,2.84],
  [-2.95,-2.85,-2.60,-2.16,-2.07,-1.72,-1.47,-1.31,-1.04,-0.73,-0.56,-0.27,-0.05,0.12,0.60,0.78,0.99,1.13,1.48,1.73,2.05,2.16,2.44,2.70,2.98],
  [-2.99,-2.73,-2.45,-2.31,-1.93,-1.67,-1.39,-1.16,-0.95,-0.82,-0.46,-0.17,0.04,0.15,0.67,0.87,0.96,1.10,1.16,1.52,1.83,2.11,2.28,2.58,2.91],
  [-2.91,-2.78,-2.54,-2.21,-1.87,-1.76,-1.54,-1.25,-1.08,-0.87,-0.61,-0.42,-0.14,0.07,0.19,0.59,0.72,0.94,1.17,1.43,1.78,2.03,2.15,2.49,2.80],
  [-2.96,-2.64,-2.53,-2.25,-2.02,-1.83,-1.59,-1.34,-1.10,-0.90,-0.70,-0.32,-0.02,0.10,0.17,0.65,0.88,1.05,1.14,1.55,1.90,2.13,2.19,2.63,2.87],
  [-2.94,-2.82,-2.57,-2.36,-2.09,-1.90,-1.62,-1.43,-1.20,-0.97,-0.64,-0.49,-0.25,-0.09,0.13,0.22,0.61,0.97,1.12,1.33,1.68,1.97,2.14,2.42,2.73,2.96],
  [-2.98,-2.71,-2.40,-2.14,-1.94,-1.69,-1.40,-1.29,-1.06,-0.80,-0.53,-0.20,0.02,0.16,0.69,0.83,0.99,1.11,1.19,1.58,1.85,2.09,2.17,2.56,2.94],
  [-2.92,-2.76,-2.47,-2.33,-2.00,-1.75,-1.48,-1.20,-0.93,-0.75,-0.45,-0.28,-0.11,0.11,0.14,0.57,0.74,0.92,1.15,1.47,1.80,2.12,2.46,2.78],
  [-2.97,-2.86,-2.60,-2.27,-2.10,-1.80,-1.55,-1.39,-1.09,-0.91,-0.66,-0.37,-0.07,0.06,0.18,0.63,0.90,1.02,1.13,1.37,1.61,1.92,2.15,2.20,2.68,2.89]
];
const rasterRFTTone = [
  [-2.94,-2.83,-2.64,-2.46,-2.28,-2.22,-1.98,-1.85,-1.62,-1.31,-1.13,-0.95,-0.63,-0.42,-0.35,-0.04,0.03,0.12,0.66,0.84,1.13,1.29,1.58,1.81,1.95,2.17,2.36,2.68,2.93],
  [-2.89,-2.66,-2.55,-2.24,-2.08,-1.79,-1.57,-1.44,-1.16,-0.99,-0.78,-0.51,-0.27,-0.15,0.06,0.18,0.72,0.93,1.07,1.34,1.49,1.72,2.04,2.14,2.43,2.57,2.86],
  [-2.97,-2.78,-2.43,-2.37,-2.15,-1.88,-1.69,-1.36,-1.20,-0.88,-0.66,-0.46,-0.22,-0.07,0.01,0.14,0.26,0.61,0.89,1.02,1.23,1.46,1.69,1.87,2.12,2.38,2.60,2.79],
  [-2.92,-2.85,-2.63,-2.44,-2.20,-1.96,-1.75,-1.52,-1.27,-1.09,-0.84,-0.58,-0.38,-0.12,0.04,0.09,0.36,0.65,0.98,1.14,1.42,1.64,1.91,2.08,2.28,2.53,2.72,2.97],
  [-2.99,-2.71,-2.56,-2.26,-2.13,-1.83,-1.65,-1.39,-1.05,-0.92,-0.71,-0.48,-0.29,-0.02,0.07,0.21,0.68,0.77,1.01,1.26,1.55,1.78,2.01,2.22,2.48,2.65,2.91],
  [-2.87,-2.76,-2.45,-2.32,-2.06,-1.76,-1.60,-1.33,-1.14,-0.97,-0.62,-0.43,-0.19,0.02,0.13,0.57,0.86,0.95,1.19,1.37,1.62,1.85,2.13,2.35,2.55,2.84],
  [-2.95,-2.69,-2.53,-2.27,-2.18,-1.90,-1.56,-1.42,-1.25,-1.02,-0.74,-0.55,-0.33,-0.09,0.05,0.17,0.41,0.62,0.81,1.08,1.31,1.53,1.71,1.98,2.24,2.45,2.77,2.98],
  [-2.91,-2.80,-2.65,-2.41,-2.23,-1.94,-1.72,-1.48,-1.12,-0.89,-0.68,-0.41,-0.25,-0.05,0.01,0.24,0.69,0.92,1.15,1.40,1.66,1.83,2.07,2.31,2.52,2.74],
  [-2.98,-2.74,-2.47,-2.35,-2.09,-1.84,-1.63,-1.31,-1.18,-0.96,-0.77,-0.53,-0.30,-0.16,0.08,0.15,0.58,0.85,1.04,1.21,1.47,1.69,1.92,2.16,2.41,2.63,2.88],
  [-2.93,-2.62,-2.54,-2.25,-2.04,-1.78,-1.53,-1.35,-1.08,-0.91,-0.65,-0.45,-0.36,-0.11,0.03,0.11,0.29,0.67,0.88,1.12,1.33,1.57,1.84,2.05,2.27,2.58,2.85],
  [-2.88,-2.77,-2.66,-2.43,-2.21,-2.02,-1.68,-1.55,-1.23,-1.04,-0.83,-0.60,-0.27,-0.07,0.06,0.19,0.63,0.97,1.06,1.29,1.51,1.76,1.97,2.19,2.46,2.67,2.94],
  [-2.96,-2.72,-2.44,-2.29,-2.12,-1.86,-1.61,-1.45,-1.15,-0.98,-0.76,-0.49,-0.31,-0.02,0.09,0.34,0.66,0.83,1.09,1.36,1.54,1.82,2.09,2.33,2.51,2.81],
  [-2.90,-2.84,-2.57,-2.36,-2.24,-1.99,-1.73,-1.43,-1.28,-1.06,-0.86,-0.64,-0.42,-0.18,0.04,0.16,0.52,0.74,0.99,1.17,1.44,1.63,1.89,2.14,2.40,2.62,2.92],
  [-2.97,-2.67,-2.52,-2.27,-2.07,-1.82,-1.59,-1.32,-1.10,-0.94,-0.72,-0.44,-0.23,-0.06,0.02,0.13,0.69,0.91,1.13,1.30,1.48,1.77,2.02,2.28,2.54,2.76,2.99],
  [-2.92,-2.79,-2.63,-2.45,-2.22,-1.97,-1.66,-1.50,-1.21,-0.90,-0.67,-0.52,-0.34,-0.13,0.07,0.23,0.64,0.82,1.05,1.24,1.58,1.86,2.11,2.37,2.59,2.87],
  [-2.99,-2.73,-2.46,-2.38,-2.16,-1.80,-1.64,-1.37,-1.16,-1.00,-0.80,-0.57,-0.26,-0.08,0.05,0.18,0.47,0.68,0.94,1.16,1.41,1.68,1.94,2.21,2.44,2.71,2.96],
  [-2.86,-2.75,-2.56,-2.30,-2.19,-1.92,-1.67,-1.41,-1.26,-0.95,-0.73,-0.47,-0.21,0.01,0.12,0.61,0.87,1.02,1.27,1.50,1.73,1.99,2.23,2.47,2.70,2.90],
  [-2.94,-2.68,-2.58,-2.42,-2.25,-1.87,-1.70,-1.46,-1.19,-1.03,-0.85,-0.59,-0.37,-0.14,0.03,0.20,0.66,0.79,1.11,1.38,1.56,1.80,2.06,2.30,2.53,2.82],
  [-2.91,-2.82,-2.65,-2.34,-2.10,-1.95,-1.58,-1.34,-1.13,-0.93,-0.69,-0.50,-0.32,-0.10,0.08,0.14,0.32,0.71,0.96,1.20,1.43,1.61,1.88,2.12,2.38,2.64,2.95],
  [-2.98,-2.70,-2.51,-2.26,-2.14,-1.77,-1.62,-1.40,-1.07,-0.87,-0.61,-0.39,-0.17,0.00,0.10,0.56,0.84,1.03,1.22,1.46,1.70,1.93,2.18,2.42,2.56,2.86],
  [-2.93,-2.78,-2.62,-2.44,-2.29,-2.03,-1.74,-1.47,-1.24,-1.01,-0.79,-0.54,-0.28,-0.04,0.06,0.16,0.62,0.90,1.08,1.32,1.55,1.79,2.03,2.26,2.49,2.73,2.97],
  [-2.89,-2.64,-2.55,-2.31,-2.05,-1.85,-1.54,-1.38,-1.14,-0.97,-0.70,-0.46,-0.35,-0.12,0.04,0.22,0.68,0.86,1.14,1.35,1.52,1.74,1.96,2.15,2.39,2.66,2.89],
  [-2.96,-2.83,-2.49,-2.40,-2.17,-1.91,-1.69,-1.44,-1.29,-1.05,-0.82,-0.56,-0.24,-0.08,0.07,0.11,0.63,0.78,0.99,1.25,1.45,1.67,1.90,2.10,2.34,2.57,2.80],
  [-2.92,-2.72,-2.64,-2.33,-2.23,-1.98,-1.71,-1.49,-1.17,-0.92,-0.75,-0.51,-0.30,-0.06,0.02,0.17,0.38,0.65,0.93,1.18,1.39,1.65,1.87,2.07,2.32,2.61,2.93],
  [-2.97,-2.76,-2.59,-2.39,-2.20,-1.89,-1.76,-1.51,-1.22,-1.07,-0.88,-0.63,-0.40,-0.19,0.05,0.09,0.59,0.80,1.10,1.28,1.53,1.75,2.00,2.20,2.50,2.69,2.98]
];

// ---- figure layout ----
const ink = "#231f20";
const rowBaseline = [296.7, 622.3, 897.3, 1202.3, 1477.3];
const colLeft = [362, 708];
const yAxisGap = [7, 5];
const plotWidth = 300, histHeight = 96;
// raster band (first and last trial centre, relative to histogram top) and tick length per row
const rasterBand = [[-110.7, -15.7], [-112, -12], [-112, -11], [-112, -12], [-112, -11]];
const rasterTick = [7, 6.5, 6, 6.5, 6];

const panels = [
  { row: 0, col: 0, hist: histHabLight, raster: rasterHabLight, labels: timeLabels },
  { row: 0, col: 1, hist: histHabTone, raster: rasterHabTone, labels: timeLabels },
  { row: 1, col: 0, hist: histIFCLight, raster: rasterIFCLight, labels: timeLabels },
  { row: 1, col: 1, hist: histIFCTone, raster: rasterIFCTone, labels: timeLabelsNoNeg },
  { row: 2, col: 0, hist: histIFTLight, raster: rasterIFTLight, labels: timeLabels },
  { row: 2, col: 1, hist: histIFTTone, raster: rasterIFTTone, labels: timeLabels },
  { row: 3, col: 0, hist: histRFCLight, raster: rasterRFCLight, labels: timeLabels },
  { row: 3, col: 1, hist: histRFCTone, raster: rasterRFCTone, labels: timeLabels },
  { row: 4, col: 0, hist: histRFTLight, raster: rasterRFTLight, labels: timeLabels },
  { row: 4, col: 1, hist: histRFTTone, raster: rasterRFTTone, labels: timeLabels }
];

const svg = d3.select("#fig");

panels.forEach(p => {
  const base = rowBaseline[p.row];
  const x0 = colLeft[p.col];
  const x = d3.scaleLinear().domain([-3, 3]).range([x0, x0 + plotWidth]);
  const y = d3.scaleLinear().domain([0, 10]).range([base, base - histHeight]);
  const g = svg.append("g");

  // histogram as a stepped area
  const pts = p.hist.map((v, i) => [binStart + i * binWidth, v]);
  pts.push([binStart + p.hist.length * binWidth, p.hist[p.hist.length - 1]]);
  g.append("path")
    .attr("d", d3.area().curve(d3.curveStepAfter).x(d => x(d[0])).y0(y(0)).y1(d => y(d[1]))(pts))
    .attr("fill", ink);

  // time axis
  const xa = g.append("g")
    .attr("transform", `translate(0,${base + 5.6})`)
    .call(d3.axisBottom(x).tickValues(timeTicks).tickSizeInner(4).tickSizeOuter(0).tickPadding(4)
      .tickFormat(d => p.labels.includes(d) ? String(d) : ""));
  // rate axis: minor ticks inward, labelled ticks outward
  const ya = g.append("g")
    .attr("transform", `translate(${x0 - yAxisGap[p.col]},0)`)
    .call(d3.axisLeft(y).tickValues(rateTicks).tickSizeInner(-3).tickSizeOuter(0).tickPadding(6)
      .tickFormat(d => rateLabels.includes(d) ? String(d) : ""));
  ya.selectAll(".tick").filter(d => rateLabels.includes(d)).append("line")
    .attr("x2", -4).attr("stroke", ink);
  [xa, ya].forEach(a => {
    a.selectAll("path, line").attr("stroke", ink).attr("stroke-width", 1.1);
    a.selectAll("text").attr("font-size", 18).attr("fill", ink)
      .style("font-family", '"Liberation Sans", Arial, sans-serif');
  });

  // raster: one row of ticks per trial
  const n = p.raster.length;
  const histTop = base - histHeight;
  const band = rasterBand[p.row];
  const ry = d3.scalePoint().domain(d3.range(n)).range([histTop + band[0], histTop + band[1]]);
  const tickH = rasterTick[p.row];
  p.raster.forEach((trial, i) => {
    g.append("g").selectAll("line").data(trial).join("line")
      .attr("x1", d => x(d)).attr("x2", d => x(d))
      .attr("y1", ry(i) - tickH / 2).attr("y2", ry(i) + tickH / 2)
      .attr("stroke", ink).attr("stroke-width", 1.5);
  });
});

// column titles
const titleX = [510, 853];
columnTitles.forEach((t, i) => svg.append("text").attr("x", titleX[i]).attr("y", 36)
  .attr("text-anchor", "middle").attr("font-size", 36.5).text(t));

// stimulus labels above the conditioning rows
const stimX = [[525, 853], [521, 853]];
[[stimulusLabelsInitial, 394], [stimulusLabelsReversal, 980]].forEach(([labs, yy], k) => {
  labs.forEach((t, i) => svg.append("text").attr("x", stimX[k][i]).attr("y", yy)
    .attr("text-anchor", "middle").attr("font-size", 28).text(t));
});

// row labels
const rowLabelY = [[194], [524, 562], [817], [1114, 1152], [1413]];
const rowLabelX = [7, 7, 7, 3, 7];
rowLabels.forEach((lines, r) => lines.forEach((t, k) =>
  svg.append("text").attr("x", rowLabelX[r]).attr("y", rowLabelY[r][k]).attr("font-size", 31.5).text(t)));

// time axis titles
[526, 856].forEach(cx => svg.append("text").attr("x", cx).attr("y", 1552)
  .attr("text-anchor", "middle").attr("font-size", 31).text(timeAxisTitle));
</script>
</body>
</html>
